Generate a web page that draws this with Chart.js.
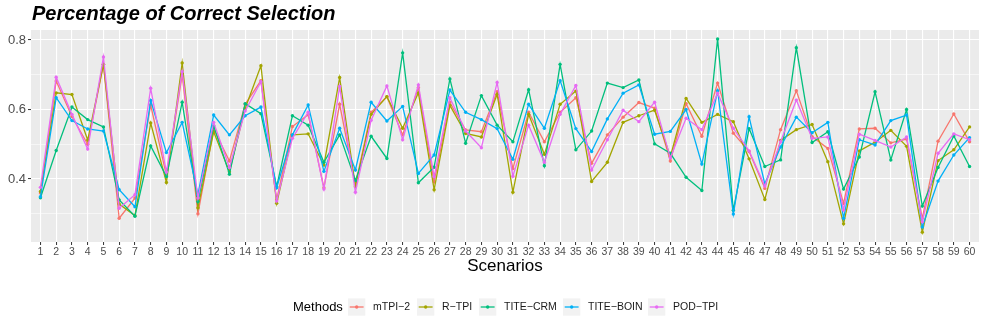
<!DOCTYPE html>
<html>
<head>
<meta charset="utf-8">
<script src="https://cdn.jsdelivr.net/npm/chart.js@4.4.1/dist/chart.umd.min.js"></script>
<style>
  html, body { margin: 0; padding: 0; background: #fff; }
  canvas { display: block; }
</style>
</head>
<body>
<canvas id="myChart" width="986" height="329"></canvas>
<script>
// data
const scenarios = Array.from({ length: 60 }, (_, i) => i + 1);
const methods = ['mTPI−2', 'R−TPI', 'TITE−CRM', 'TITE−BOIN', 'POD−TPI'];
const colors = ['#F8766D', '#A3A500', '#00BF7D', '#00B0F6', '#E76BF3'];
const yTicks = [0.3, 0.4, 0.5, 0.6, 0.7, 0.8];
const yLabelled = [0.4, 0.6, 0.8];

const mtpi2 = [0.36, 0.682, 0.58, 0.50, 0.73, 0.287, 0.345, 0.613, 0.41, 0.70,
  0.30, 0.544, 0.452, 0.615, 0.683, 0.34, 0.551, 0.585, 0.375, 0.615,
  0.383, 0.592, 0.637, 0.527, 0.663, 0.392, 0.62, 0.541, 0.536, 0.651,
  0.43, 0.592, 0.507, 0.592, 0.634, 0.445, 0.527, 0.578, 0.62, 0.604,
  0.452, 0.617, 0.523, 0.676, 0.532, 0.479, 0.373, 0.542, 0.654, 0.522,
  0.488, 0.33, 0.544, 0.546, 0.504, 0.515, 0.287, 0.509, 0.587, 0.507];
const rtpi = [0.364, 0.648, 0.643, 0.512, 0.73, 0.328, 0.295, 0.561, 0.39, 0.734,
  0.317, 0.536, 0.421, 0.603, 0.726, 0.33, 0.527, 0.530, 0.44, 0.692,
  0.378, 0.586, 0.637, 0.546, 0.648, 0.369, 0.612, 0.531, 0.521, 0.644,
  0.362, 0.586, 0.471, 0.615, 0.653, 0.393, 0.448, 0.563, 0.582, 0.598,
  0.464, 0.632, 0.563, 0.586, 0.565, 0.458, 0.341, 0.511, 0.542, 0.557,
  0.45, 0.271, 0.481, 0.506, 0.54, 0.494, 0.247, 0.453, 0.484, 0.55];
const titeCrm = [0.346, 0.482, 0.607, 0.571, 0.55, 0.34, 0.293, 0.495, 0.407, 0.621,
  0.335, 0.553, 0.414, 0.617, 0.588, 0.378, 0.582, 0.555, 0.448, 0.527,
  0.396, 0.523, 0.459, 0.763, 0.389, 0.434, 0.688, 0.503, 0.64, 0.555,
  0.507, 0.657, 0.438, 0.73, 0.484, 0.538, 0.676, 0.663, 0.685, 0.501,
  0.474, 0.405, 0.367, 0.803, 0.31, 0.545, 0.436, 0.455, 0.778, 0.505,
  0.536, 0.371, 0.463, 0.651, 0.455, 0.60, 0.322, 0.433, 0.524, 0.436];
const titeBoin = [0.349, 0.634, 0.568, 0.544, 0.538, 0.369, 0.32, 0.626, 0.476, 0.563,
  0.355, 0.584, 0.527, 0.582, 0.607, 0.375, 0.527, 0.613, 0.422, 0.546,
  0.426, 0.621, 0.567, 0.609, 0.416, 0.469, 0.656, 0.592, 0.571, 0.545,
  0.457, 0.615, 0.546, 0.683, 0.545, 0.479, 0.573, 0.647, 0.671, 0.529,
  0.537, 0.60, 0.443, 0.654, 0.299, 0.579, 0.386, 0.492, 0.578, 0.533,
  0.563, 0.287, 0.513, 0.498, 0.568, 0.584, 0.262, 0.394, 0.469, 0.519];
const podTpi = [0.376, 0.693, 0.586, 0.486, 0.751, 0.316, 0.355, 0.661, 0.42, 0.709,
  0.345, 0.563, 0.433, 0.596, 0.68, 0.337, 0.517, 0.592, 0.371, 0.666,
  0.362, 0.569, 0.668, 0.513, 0.671, 0.407, 0.634, 0.538, 0.49, 0.678,
  0.408, 0.555, 0.448, 0.586, 0.669, 0.426, 0.513, 0.598, 0.565, 0.621,
  0.461, 0.575, 0.542, 0.647, 0.546, 0.481, 0.38, 0.507, 0.627, 0.517,
  0.521, 0.311, 0.529, 0.511, 0.492, 0.521, 0.277, 0.474, 0.53, 0.513];

const series = [mtpi2, rtpi, titeCrm, titeBoin, podTpi];

const FONT = '"Liberation Sans", Arial, Helvetica, sans-serif';

// grey panel, title and ggplot-style legend
const ggExtras = {
  id: 'ggExtras',
  beforeDraw(chart) {
    const { ctx, chartArea: a } = chart;
    ctx.save();
    ctx.fillStyle = '#fff';
    ctx.fillRect(0, 0, chart.width, chart.height);
    ctx.fillStyle = '#EBEBEB';
    ctx.fillRect(a.left, a.top, a.right - a.left, a.bottom - a.top);
    ctx.restore();
  },
  afterDraw(chart) {
    const ctx = chart.ctx;
    ctx.save();
    // title
    ctx.fillStyle = '#000';
    ctx.font = 'italic bold 20px ' + FONT;
    ctx.textBaseline = 'alphabetic';
    ctx.textAlign = 'left';
    ctx.fillText('Percentage of Correct Selection', 32, 20);

    // legend
    const cy = 307;
    ctx.font = '13px ' + FONT;
    ctx.textBaseline = 'middle';
    ctx.fillText('Methods', 293, cy);
    const boxX = [348, 417, 479, 563, 648];
    ctx.font = '10.5px ' + FONT;
    methods.forEach(function (m, i) {
      const x = boxX[i];
      ctx.fillStyle = '#F2F2F2';
      ctx.fillRect(x, cy - 8.6, 17.3, 17.3);
      ctx.strokeStyle = colors[i];
      ctx.lineWidth = 1.3;
      ctx.beginPath();
      ctx.moveTo(x + 1.7, cy);
      ctx.lineTo(x + 15.6, cy);
      ctx.stroke();
      ctx.fillStyle = colors[i];
      ctx.beginPath();
      ctx.arc(x + 8.65, cy, 1.7, 0, Math.PI * 2);
      ctx.fill();
      ctx.fillStyle = '#1A1A1A';
      ctx.fillText(m, x + 25, cy);
    });
    ctx.restore();
  }
};

const ctx = document.getElementById('myChart').getContext('2d');

// eslint-disable-next-line
const chart = new Chart(ctx, {
  type: 'line',
  data: {
    datasets: series.map(function (vals, i) {
      return {
        label: methods[i],
        data: scenarios.map(function (s, j) { return { x: s, y: vals[j] }; }),
        borderColor: colors[i],
        backgroundColor: colors[i],
        borderWidth: 1.3,
        pointRadius: 1.7,
        pointBorderWidth: 0,
        pointHoverRadius: 1.7,
        tension: 0,
        order: methods.length - i,
      };
    }),
  },
  options: {
    responsive: false,
    animation: false,
    devicePixelRatio: 1,
    events: [],
    layout: { padding: { top: 30, right: 7, bottom: 42, left: 0 } },
    plugins: {
      legend: { display: false },
      title: { display: false },
      tooltip: { enabled: false },
    },
    scales: {
      x: {
        type: 'linear',
        min: 0.4,
        max: 60.6,
        afterBuildTicks: function (scale) {
          scale.ticks = scenarios.map(function (v) { return { value: v }; });
        },
        afterFit: function (scale) { scale.height = 45; },
        grid: {
          color: '#FFFFFF',
          lineWidth: 1.1,
          tickLength: 3,
          tickColor: '#333333',
          tickWidth: 1,
        },
        border: { display: false },
        ticks: {
          autoSkip: false,
          maxRotation: 0,
          padding: 0.5,
          color: '#4D4D4D',
          font: { family: FONT, size: 10.5 },
          callback: function (v) { return String(v); },
        },
        title: {
          display: true,
          text: 'Scenarios',
          color: '#000',
          font: { family: FONT, size: 17 },
          padding: { top: 0, bottom: 10.3 },
        },
      },
      y: {
        min: 0.2187,
        max: 0.8288,
        afterBuildTicks: function (scale) {
          scale.ticks = yTicks.map(function (v) { return { value: v }; });
        },
        afterFit: function (scale) { scale.width = 31; },
        grid: {
          color: '#FFFFFF',
          lineWidth: function (c) { return yLabelled.includes(c.tick.value) ? 1.1 : 0.55; },
          tickLength: 3,
          tickColor: function (c) { return yLabelled.includes(c.tick.value) ? '#333333' : 'rgba(0,0,0,0)'; },
          tickWidth: 1,
        },
        border: { display: false },
        ticks: {
          padding: 2,
          color: '#4D4D4D',
          font: { family: FONT, size: 13 },
          callback: function (v) { return yLabelled.includes(v) ? v.toFixed(1) : ''; },
        },
      },
    },
  },
  plugins: [ggExtras],
});
</script>
</body>
</html>
